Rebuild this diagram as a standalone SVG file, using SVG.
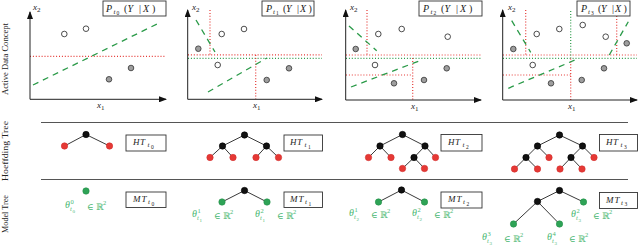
<svg xmlns="http://www.w3.org/2000/svg" width="640" height="249" viewBox="0 0 640 249">
<style>
text{font-family:"Liberation Serif","DejaVu Serif",serif;fill:#222}
.i{font-style:italic}
.lab{font-size:8px}
.pm{font-size:10px}
.s1{font-size:7px}
.s2{font-size:5.5px}
.ax{stroke:#222;stroke-width:1;fill:none}
.box{fill:#fff;stroke:#333;stroke-width:0.9}
.rd{stroke:#e53935;stroke-width:1.2;stroke-dasharray:1 1.9;fill:none}
.gd{stroke:#2a9a48;stroke-width:1.2;stroke-dasharray:1 1.9;fill:none}
.gdash{stroke:#2a9a48;stroke-width:1.3;stroke-dasharray:6 5;fill:none}
.op{fill:#fff;stroke:#222;stroke-width:0.8}
.fl{fill:#9e9e9e;stroke:#333;stroke-width:0.8}
.sep{stroke:#555;stroke-width:1}
.e{stroke:#222;stroke-width:0.9}
.nb{fill:#111;stroke:#000;stroke-width:0.6}
.nr{fill:#e53935;stroke:#d32f2f;stroke-width:0.6}
.ng{fill:#2ea356;stroke:#23904a;stroke-width:0.6}
.gt{fill:#4cb874;font-size:10px}
.gt .s1{font-size:6.5px}
.gt .s2{font-size:5px}
.tl{font-size:9px}
</style>
<defs>
<marker id="ah" viewBox="0 0 8 6" refX="7" refY="3" markerWidth="8" markerHeight="6" markerUnits="userSpaceOnUse" orient="auto">
<path d="M0,0 L8,3 L0,6 Z" fill="#111"/>
</marker>
</defs>

<!-- row labels -->
<text class="lab" transform="translate(8,59) rotate(-90)" text-anchor="middle" textLength="72" lengthAdjust="spacingAndGlyphs">Active Data Concept</text>
<text class="lab" transform="translate(8,151) rotate(-90)" text-anchor="middle" textLength="60" lengthAdjust="spacingAndGlyphs">Hoeffding Tree</text>
<text class="lab" transform="translate(8,214) rotate(-90)" text-anchor="middle" textLength="38" lengthAdjust="spacingAndGlyphs">Model Tree</text>

<!-- separators -->
<line class="sep" x1="41" y1="122.5" x2="628" y2="122.5"/>
<line class="sep" x1="41" y1="179.5" x2="628" y2="179.5"/>

<!-- Panel 1 -->
<g id="panel-t0">
<line class="rd" x1="30" y1="56.3" x2="166" y2="56.3"/>
<line class="gdash" x1="33" y1="85" x2="157" y2="24"/>
<circle class="op" cx="64.3" cy="34" r="2.8"/>
<circle class="op" cx="86" cy="28.7" r="2.8"/>
<circle class="fl" cx="109" cy="79.3" r="2.8"/>
<circle class="fl" cx="131" cy="68" r="2.8"/>
<line class="ax" x1="30" y1="99.3" x2="30" y2="12" marker-end="url(#ah)"/>
<line class="ax" x1="30" y1="99.3" x2="166" y2="99.3" marker-end="url(#ah)"/>
<text x="33" y="10" class="i" font-size="9">x<tspan class="s1" dy="2" font-style="normal">2</tspan></text>
<text x="97" y="108" class="i" font-size="9">x<tspan class="s1" dy="2" font-style="normal">1</tspan></text>
<rect class="box" x="103" y="1" width="63" height="15"/>
<text class="pm" y="11.5"><tspan class="i" x="106">P</tspan><tspan class="i s1" x="113.5" y="13.5">t</tspan><tspan class="s2" x="116.5" y="15">0</tspan><tspan x="124" y="11.5">(</tspan><tspan class="i" x="127.5">Y</tspan><tspan x="139">|</tspan><tspan class="i" x="143">X</tspan><tspan x="152">)</tspan></text>
</g>

<!-- Panel 2 -->
<g id="panel-t1">
<line class="rd" x1="210" y1="10" x2="210" y2="55"/>
<line class="rd" x1="188" y1="54.8" x2="322" y2="54.8"/>
<line class="gd" x1="188" y1="58.3" x2="322" y2="58.3"/>
<line class="rd" x1="255.7" y1="55" x2="255.7" y2="99"/>
<line class="gdash" x1="196" y1="20" x2="215" y2="52"/>
<line class="gdash" x1="208" y1="92" x2="267" y2="58"/>
<circle class="op" cx="221.7" cy="34" r="2.8"/>
<circle class="op" cx="244" cy="29" r="2.8"/>
<circle class="op" cx="217.7" cy="65" r="2.8"/>
<circle class="fl" cx="198.3" cy="48.7" r="2.8"/>
<circle class="fl" cx="266.7" cy="80" r="2.8"/>
<circle class="fl" cx="289" cy="68.3" r="2.8"/>
<line class="ax" x1="187.7" y1="99.3" x2="187.7" y2="10" marker-end="url(#ah)"/>
<line class="ax" x1="187.7" y1="99.3" x2="322" y2="99.3" marker-end="url(#ah)"/>
<text x="192" y="10" class="i" font-size="9">x<tspan class="s1" dy="2" font-style="normal">2</tspan></text>
<text x="253" y="108" class="i" font-size="9">x<tspan class="s1" dy="2" font-style="normal">1</tspan></text>
<rect class="box" x="262" y="1" width="52" height="15"/>
<text class="pm" y="11.5"><tspan class="i" x="266">P</tspan><tspan class="i s1" x="273" y="13.5">t</tspan><tspan class="s2" x="276" y="15">1</tspan><tspan x="283" y="11.5">(</tspan><tspan class="i" x="286">Y</tspan><tspan x="297">|</tspan><tspan class="i" x="300">X</tspan><tspan x="308.5">)</tspan></text>
</g>

<!-- Panel 3 -->
<g id="panel-t2">
<line class="rd" x1="367" y1="10" x2="367" y2="55"/>
<line class="rd" x1="346" y1="55" x2="481" y2="55"/>
<line class="gd" x1="346" y1="58.3" x2="481" y2="58.3"/>
<line class="rd" x1="412.7" y1="58" x2="412.7" y2="100"/>
<line class="rd" x1="346" y1="75" x2="412.7" y2="75"/>
<line class="gdash" x1="349" y1="26" x2="376.7" y2="50.7"/>
<line class="gdash" x1="351" y1="87" x2="421.7" y2="60"/>
<circle class="op" cx="378.3" cy="34" r="2.8"/>
<circle class="op" cx="401.7" cy="29" r="2.8"/>
<circle class="op" cx="447.7" cy="36.7" r="2.8"/>
<circle class="op" cx="375" cy="65" r="2.8"/>
<circle class="fl" cx="355.7" cy="49" r="2.8"/>
<circle class="fl" cx="394" cy="83.3" r="2.8"/>
<circle class="fl" cx="424" cy="80" r="2.8"/>
<circle class="fl" cx="446.7" cy="68.3" r="2.8"/>
<line class="ax" x1="345.7" y1="100" x2="345.7" y2="10" marker-end="url(#ah)"/>
<line class="ax" x1="345.7" y1="100" x2="481" y2="100" marker-end="url(#ah)"/>
<text x="350" y="10" class="i" font-size="9">x<tspan class="s1" dy="2" font-style="normal">2</tspan></text>
<text x="411" y="108.5" class="i" font-size="9">x<tspan class="s1" dy="2" font-style="normal">1</tspan></text>
<rect class="box" x="419" y="1" width="63" height="15"/>
<text class="pm" y="11.5"><tspan class="i" x="423">P</tspan><tspan class="i s1" x="430.5" y="13.5">t</tspan><tspan class="s2" x="433.5" y="15">2</tspan><tspan x="441" y="11.5">(</tspan><tspan class="i" x="444.5">Y</tspan><tspan x="456">|</tspan><tspan class="i" x="460">X</tspan><tspan x="469">)</tspan></text>
</g>

<!-- Panel 4 -->
<g id="panel-t3">
<line class="rd" x1="525.7" y1="10" x2="525.7" y2="55"/>
<line class="rd" x1="503" y1="55" x2="637" y2="55"/>
<line class="gd" x1="503" y1="58.3" x2="637" y2="58.3"/>
<line class="gd" x1="570.7" y1="11" x2="570.7" y2="58"/>
<line class="rd" x1="570.7" y1="58.5" x2="570.7" y2="100"/>
<line class="rd" x1="503" y1="75" x2="570.7" y2="75"/>
<line class="rd" x1="616.7" y1="16" x2="616.7" y2="55"/>
<line class="gdash" x1="511.7" y1="20.7" x2="530.7" y2="52.3"/>
<line class="gdash" x1="508.3" y1="88.3" x2="575" y2="60"/>
<line class="gdash" x1="609.3" y1="55" x2="628.3" y2="21.7"/>
<circle class="op" cx="536.7" cy="34" r="2.8"/>
<circle class="op" cx="559.3" cy="29" r="2.8"/>
<circle class="op" cx="582.7" cy="25" r="2.8"/>
<circle class="op" cx="605.7" cy="36.7" r="2.8"/>
<circle class="op" cx="532.7" cy="65" r="2.8"/>
<circle class="fl" cx="513.3" cy="49" r="2.8"/>
<circle class="fl" cx="626.7" cy="43.3" r="2.8"/>
<circle class="fl" cx="551" cy="83.3" r="2.8"/>
<circle class="fl" cx="581.7" cy="80" r="2.8"/>
<circle class="fl" cx="604" cy="68.3" r="2.8"/>
<line class="ax" x1="502.7" y1="100" x2="502.7" y2="10" marker-end="url(#ah)"/>
<line class="ax" x1="502.7" y1="100" x2="637" y2="100" marker-end="url(#ah)"/>
<text x="508" y="10" class="i" font-size="9">x<tspan class="s1" dy="2" font-style="normal">2</tspan></text>
<text x="568" y="108.5" class="i" font-size="9">x<tspan class="s1" dy="2" font-style="normal">1</tspan></text>
<rect class="box" x="577" y="1" width="53" height="15"/>
<text class="pm" y="11.5"><tspan class="i" x="581">P</tspan><tspan class="i s1" x="588" y="13.5">t</tspan><tspan class="s2" x="591" y="15">3</tspan><tspan x="598" y="11.5">(</tspan><tspan class="i" x="601">Y</tspan><tspan x="612">|</tspan><tspan class="i" x="615">X</tspan><tspan x="623.5">)</tspan></text>
</g>

<!-- connectors -->
<g id="connectors">
<line class="e" x1="86" y1="134.5" x2="64.5" y2="146"/>
<line class="e" x1="86" y1="134.5" x2="109.5" y2="146"/>
<line class="e" x1="244.5" y1="135" x2="222.5" y2="146"/>
<line class="e" x1="244.5" y1="135" x2="266.5" y2="146"/>
<line class="e" x1="222.5" y1="146" x2="210" y2="157.5"/>
<line class="e" x1="222.5" y1="146" x2="233" y2="157.5"/>
<line class="e" x1="266.5" y1="146" x2="256" y2="157.5"/>
<line class="e" x1="266.5" y1="146" x2="278.5" y2="157.5"/>
<line class="e" x1="244.5" y1="190.5" x2="222" y2="202"/>
<line class="e" x1="244.5" y1="190.5" x2="267" y2="202"/>
<line class="e" x1="402.5" y1="134.5" x2="380" y2="146"/>
<line class="e" x1="402.5" y1="134.5" x2="425" y2="146"/>
<line class="e" x1="380" y1="146" x2="368.5" y2="157.5"/>
<line class="e" x1="380" y1="146" x2="391" y2="157.5"/>
<line class="e" x1="425" y1="146" x2="414" y2="157.5"/>
<line class="e" x1="425" y1="146" x2="435.5" y2="157.5"/>
<line class="e" x1="414" y1="157.5" x2="402.5" y2="168.5"/>
<line class="e" x1="414" y1="157.5" x2="424.5" y2="168.5"/>
<line class="e" x1="401.5" y1="190" x2="378.5" y2="202"/>
<line class="e" x1="401.5" y1="190" x2="424.5" y2="202"/>
<line class="e" x1="559.5" y1="135" x2="537.5" y2="146"/>
<line class="e" x1="559.5" y1="135" x2="582.5" y2="146"/>
<line class="e" x1="537.5" y1="146" x2="526" y2="157.5"/>
<line class="e" x1="537.5" y1="146" x2="549" y2="157.5"/>
<line class="e" x1="582.5" y1="146" x2="571" y2="157.5"/>
<line class="e" x1="582.5" y1="146" x2="594" y2="157.5"/>
<line class="e" x1="526" y1="157.5" x2="514.5" y2="169"/>
<line class="e" x1="526" y1="157.5" x2="537.5" y2="169"/>
<line class="e" x1="571" y1="157.5" x2="560" y2="169"/>
<line class="e" x1="571" y1="157.5" x2="582" y2="169"/>
<line class="e" x1="559.5" y1="190.5" x2="537.5" y2="201.5"/>
<line class="e" x1="559.5" y1="190.5" x2="583.5" y2="202"/>
<line class="e" x1="537.5" y1="201.5" x2="513.5" y2="224"/>
<line class="e" x1="537.5" y1="201.5" x2="559.5" y2="224"/>
</g>

<!-- HT t0 -->
<g id="ht0">
<circle class="nb" cx="86" cy="134.5" r="3.2"/>
<circle class="nr" cx="64.5" cy="146" r="3.2"/>
<circle class="nr" cx="109.5" cy="146" r="3.2"/>
</g>
<g id="ht0-label">
<rect class="box" x="126" y="135" width="40" height="16"/>
<text class="tl" y="145"><tspan class="i" x="133">H</tspan><tspan class="i" x="140">T</tspan><tspan class="i s1" x="147.5" y="147">t</tspan><tspan class="s2" x="151" y="148.5">0</tspan></text>
</g>
<!-- MT t0 -->
<g id="mt0">
<circle class="ng" cx="86" cy="191" r="3.2"/>
<text class="gt" y="208"><tspan class="i" x="65">θ</tspan><tspan class="s1" x="70.5" y="203.5">0</tspan><tspan class="i s1" x="70" y="211">t</tspan><tspan class="s2" x="72.5" y="212.5">0</tspan><tspan x="87" y="209.5" font-size="9">∈</tspan><tspan x="96" y="209.5" font-size="9">ℝ</tspan><tspan class="s1" x="103" y="205">2</tspan></text>
</g>
<g id="mt0-label">
<rect class="box" x="126" y="192" width="40" height="15.5"/>
<text class="tl" y="202"><tspan class="i" x="133">M</tspan><tspan class="i" x="141.5">T</tspan><tspan class="i s1" x="148" y="204">t</tspan><tspan class="s2" x="151.5" y="205.5">0</tspan></text>
</g>

<!-- HT t1 -->
<g id="ht1">
<circle class="nb" cx="244.5" cy="135" r="3.2"/>
<circle class="nb" cx="222.5" cy="146" r="3.2"/>
<circle class="nb" cx="266.5" cy="146" r="3.2"/>
<circle class="nr" cx="210" cy="157.5" r="3.2"/>
<circle class="nr" cx="233" cy="157.5" r="3.2"/>
<circle class="nr" cx="256" cy="157.5" r="3.2"/>
<circle class="nr" cx="278.5" cy="157.5" r="3.2"/>
</g>
<g id="ht1-label">
<rect class="box" x="284" y="135" width="38.5" height="16"/>
<text class="tl" y="145"><tspan class="i" x="290">H</tspan><tspan class="i" x="297">T</tspan><tspan class="i s1" x="304.5" y="147">t</tspan><tspan class="s2" x="308" y="148.5">1</tspan></text>
</g>
<!-- MT t1 -->
<g id="mt1">
<circle class="nb" cx="244.5" cy="190.5" r="3.2"/>
<circle class="ng" cx="222" cy="202" r="3.2"/>
<circle class="ng" cx="267" cy="202" r="3.2"/>
<text class="gt" y="217"><tspan class="i" x="192">θ</tspan><tspan class="s1" x="197.5" y="212.5">1</tspan><tspan class="i s1" x="197" y="220">t</tspan><tspan class="s2" x="199.5" y="221.5">1</tspan><tspan x="214" y="218.5" font-size="9">∈</tspan><tspan x="223" y="218.5" font-size="9">ℝ</tspan><tspan class="s1" x="230" y="214">2</tspan></text>
<text class="gt" y="217"><tspan class="i" x="255">θ</tspan><tspan class="s1" x="260.5" y="212.5">2</tspan><tspan class="i s1" x="260" y="220">t</tspan><tspan class="s2" x="262.5" y="221.5">1</tspan><tspan x="277" y="218.5" font-size="9">∈</tspan><tspan x="286" y="218.5" font-size="9">ℝ</tspan><tspan class="s1" x="293" y="214">2</tspan></text>
</g>
<g id="mt1-label">
<rect class="box" x="284" y="192" width="38.5" height="15.5"/>
<text class="tl" y="202"><tspan class="i" x="290">M</tspan><tspan class="i" x="298.5">T</tspan><tspan class="i s1" x="305" y="204">t</tspan><tspan class="s2" x="308.5" y="205.5">1</tspan></text>
</g>

<!-- HT t2 -->
<g id="ht2">
<circle class="nb" cx="402.5" cy="134.5" r="3.2"/>
<circle class="nb" cx="380" cy="146" r="3.2"/>
<circle class="nb" cx="425" cy="146" r="3.2"/>
<circle class="nr" cx="368.5" cy="157.5" r="3.2"/>
<circle class="nr" cx="391" cy="157.5" r="3.2"/>
<circle class="nb" cx="414" cy="157.5" r="3.2"/>
<circle class="nr" cx="435.5" cy="157.5" r="3.2"/>
<circle class="nr" cx="402.5" cy="168.5" r="3.2"/>
<circle class="nr" cx="424.5" cy="168.5" r="3.2"/>
</g>
<g id="ht2-label">
<rect class="box" x="441" y="134.5" width="41" height="16.5"/>
<text class="tl" y="145"><tspan class="i" x="448">H</tspan><tspan class="i" x="455">T</tspan><tspan class="i s1" x="462.5" y="147">t</tspan><tspan class="s2" x="466" y="148.5">2</tspan></text>
</g>
<!-- MT t2 -->
<g id="mt2">
<circle class="nb" cx="401.5" cy="190" r="3.2"/>
<circle class="ng" cx="378.5" cy="202" r="3.2"/>
<circle class="ng" cx="424.5" cy="202" r="3.2"/>
<text class="gt" y="216"><tspan class="i" x="349">θ</tspan><tspan class="s1" x="354.5" y="211.5">1</tspan><tspan class="i s1" x="354" y="219">t</tspan><tspan class="s2" x="356.5" y="220.5">2</tspan><tspan x="371" y="217.5" font-size="9">∈</tspan><tspan x="380" y="217.5" font-size="9">ℝ</tspan><tspan class="s1" x="387" y="213">2</tspan></text>
<text class="gt" y="216"><tspan class="i" x="412">θ</tspan><tspan class="s1" x="417.5" y="211.5">2</tspan><tspan class="i s1" x="417" y="219">t</tspan><tspan class="s2" x="419.5" y="220.5">2</tspan><tspan x="434" y="217.5" font-size="9">∈</tspan><tspan x="443" y="217.5" font-size="9">ℝ</tspan><tspan class="s1" x="450" y="213">2</tspan></text>
</g>
<g id="mt2-label">
<rect class="box" x="441" y="192" width="41" height="16"/>
<text class="tl" y="202"><tspan class="i" x="448">M</tspan><tspan class="i" x="456.5">T</tspan><tspan class="i s1" x="463" y="204">t</tspan><tspan class="s2" x="466.5" y="205.5">2</tspan></text>
</g>

<!-- HT t3 -->
<g id="ht3">
<circle class="nb" cx="559.5" cy="135" r="3.2"/>
<circle class="nb" cx="537.5" cy="146" r="3.2"/>
<circle class="nb" cx="582.5" cy="146" r="3.2"/>
<circle class="nb" cx="526" cy="157.5" r="3.2"/>
<circle class="nr" cx="549" cy="157.5" r="3.2"/>
<circle class="nb" cx="571" cy="157.5" r="3.2"/>
<circle class="nr" cx="594" cy="157.5" r="3.2"/>
<circle class="nr" cx="514.5" cy="169" r="3.2"/>
<circle class="nr" cx="537.5" cy="169" r="3.2"/>
<circle class="nr" cx="560" cy="169" r="3.2"/>
<circle class="nr" cx="582" cy="169" r="3.2"/>
</g>
<g id="ht3-label">
<rect class="box" x="599.5" y="134.5" width="38" height="16.5"/>
<text class="tl" y="145"><tspan class="i" x="606">H</tspan><tspan class="i" x="613">T</tspan><tspan class="i s1" x="620.5" y="147">t</tspan><tspan class="s2" x="624" y="148.5">3</tspan></text>
</g>
<!-- MT t3 -->
<g id="mt3">
<circle class="nb" cx="559.5" cy="190.5" r="3.2"/>
<circle class="nb" cx="537.5" cy="201.5" r="3.2"/>
<circle class="ng" cx="583.5" cy="202" r="3.2"/>
<circle class="ng" cx="513.5" cy="224" r="3.2"/>
<circle class="ng" cx="559.5" cy="224" r="3.2"/>
<text class="gt" y="217"><tspan class="i" x="571">θ</tspan><tspan class="s1" x="576.5" y="212.5">2</tspan><tspan class="i s1" x="576" y="220">t</tspan><tspan class="s2" x="578.5" y="221.5">3</tspan><tspan x="593" y="218.5" font-size="9">∈</tspan><tspan x="602" y="218.5" font-size="9">ℝ</tspan><tspan class="s1" x="609" y="214">2</tspan></text>
<text class="gt" y="240"><tspan class="i" x="482">θ</tspan><tspan class="s1" x="487.5" y="235.5">3</tspan><tspan class="i s1" x="487" y="243">t</tspan><tspan class="s2" x="489.5" y="244.5">3</tspan><tspan x="504" y="241.5" font-size="9">∈</tspan><tspan x="513" y="241.5" font-size="9">ℝ</tspan><tspan class="s1" x="520" y="237">2</tspan></text>
<text class="gt" y="240"><tspan class="i" x="547">θ</tspan><tspan class="s1" x="552.5" y="235.5">4</tspan><tspan class="i s1" x="552" y="243">t</tspan><tspan class="s2" x="554.5" y="244.5">3</tspan><tspan x="569" y="241.5" font-size="9">∈</tspan><tspan x="578" y="241.5" font-size="9">ℝ</tspan><tspan class="s1" x="585" y="237">2</tspan></text>
</g>
<g id="mt3-label">
<rect class="box" x="599.5" y="192.5" width="38" height="16"/>
<text class="tl" y="202.5"><tspan class="i" x="606">M</tspan><tspan class="i" x="614.5">T</tspan><tspan class="i s1" x="621" y="204.5">t</tspan><tspan class="s2" x="624.5" y="206">3</tspan></text>
</g>
</svg>
